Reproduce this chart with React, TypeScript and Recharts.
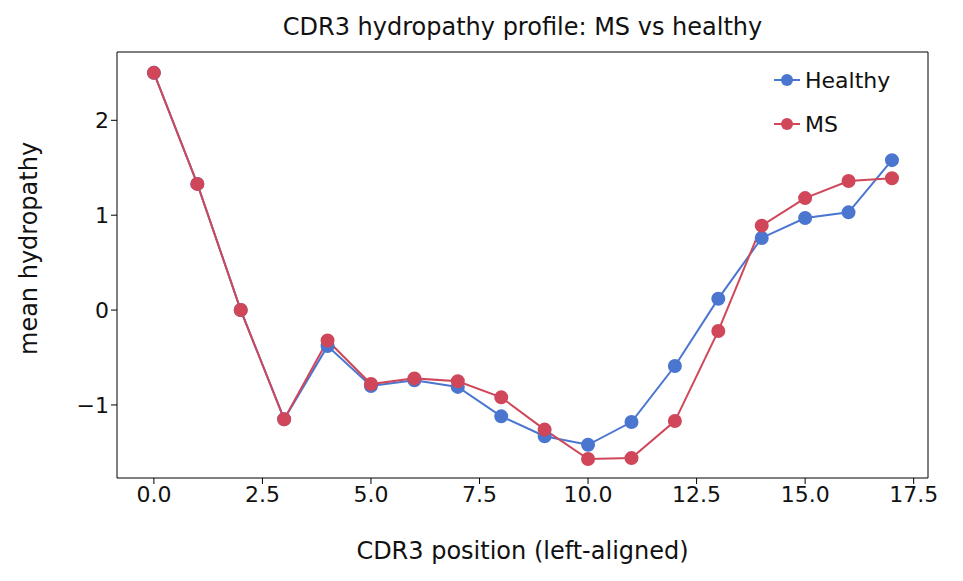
import React from "react";
import { LineChart, Line, XAxis, YAxis, ReferenceLine } from "recharts";

const positions = [0,1,2,3,4,5,6,7,8,9,10,11,12,13,14,15,16,17];
const healthy = [2.5,1.33,0,-1.15,-0.38,-0.80,-0.74,-0.81,-1.12,-1.33,-1.42,-1.18,-0.59,0.12,0.76,0.97,1.03,1.58];
const ms = [2.5,1.33,0,-1.15,-0.32,-0.78,-0.72,-0.75,-0.92,-1.26,-1.57,-1.56,-1.17,-0.22,0.89,1.18,1.36,1.39];
const xTicks = [0,2.5,5,7.5,10,12.5,15,17.5];
const yTicks = [-1,0,1,2];

const BLUE = "#4a76d0";
const RED = "#d0475a";
const data = positions.map((p, i) => ({ p, Healthy: healthy[i], MS: ms[i] }));
const font = "DejaVu Sans, sans-serif";
const X_DOM: [number, number] = [-0.85, 17.83];
const Y_DOM: [number, number] = [-1.77, 2.72];

const LegendBox = () => (
  <div style={{ position: "absolute", top: 58, left: 772, fontFamily: font, fontSize: 22, color: "#111" }}>
    {[["Healthy", BLUE], ["MS", RED]].map(([n, c]) => (
      <div key={n} style={{ display: "flex", alignItems: "center", height: 44 }}>
        <svg width={30} height={20}>
          <line x1={2} x2={28} y1={10} y2={10} stroke={c} strokeWidth={2} />
          <circle cx={15} cy={10} r={6} fill={c} />
        </svg>
        <span style={{ marginLeft: 3 }}>{n}</span>
      </div>
    ))}
  </div>
);

export default function App() {
  return (
    <div style={{ position: "absolute", left: 0, top: 0, width: 963, height: 581, background: "#fff" }}>
      <div style={{ position: "absolute", top: 13, left: 117, width: 811, textAlign: "center", fontFamily: font, fontSize: 24, color: "#111" }}>
        CDR3 hydropathy profile: MS vs healthy
      </div>
      <LineChart width={963} height={581} data={data} margin={{ top: 52, right: 35, bottom: 0, left: 0 }}>
        <XAxis dataKey="p" type="number" domain={X_DOM} ticks={xTicks} allowDataOverflow
          tickFormatter={(v: number) => v.toFixed(1)} height={103} stroke="#000" tickSize={6}
          tick={{ fill: "#111", fontSize: 22, fontFamily: font }}
          label={{ value: "CDR3 position (left-aligned)", position: "insideBottom", offset: 22, fill: "#111", fontSize: 24, fontFamily: font }} />
        <YAxis type="number" domain={Y_DOM} ticks={yTicks} allowDataOverflow width={117} stroke="#000" tickSize={6}
          tickFormatter={(v: number) => (v < 0 ? "\u2212" + Math.abs(v) : String(v))}
          tick={{ fill: "#111", fontSize: 22, fontFamily: font }}
          label={{ value: "mean hydropathy", angle: -90, position: "insideLeft", offset: 28, dy: 90, fill: "#111", fontSize: 24, fontFamily: font }} />
        <ReferenceLine y={Y_DOM[1]} stroke="#000" strokeWidth={1} />
        <ReferenceLine x={X_DOM[1]} stroke="#000" strokeWidth={1} />
        <Line dataKey="Healthy" stroke={BLUE} strokeWidth={2} dot={{ r: 6, fill: BLUE, stroke: BLUE }} isAnimationActive={false} />
        <Line dataKey="MS" stroke={RED} strokeWidth={2} dot={{ r: 6, fill: RED, stroke: RED }} isAnimationActive={false} />
      </LineChart>
      <LegendBox />
    </div>
  );
}
